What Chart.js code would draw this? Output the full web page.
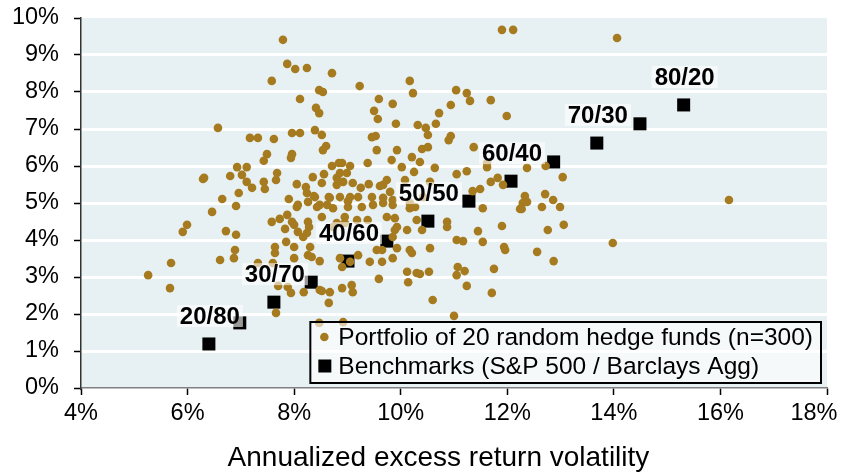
<!DOCTYPE html>
<html>
<head>
<meta charset="utf-8">
<script src="https://cdn.jsdelivr.net/npm/chart.js@4.4.1/dist/chart.umd.min.js"></script>
<style>
  html, body { margin: 0; padding: 0; background: #fff; }
  #wrap { width: 851px; height: 475px; }
</style>
</head>
<body>
<div id="wrap"><canvas id="chart" width="851" height="475"></canvas></div>
<script>
// axis ticks
const xTicks = [4, 6, 8, 10, 12, 14, 16, 18];
const yTicks = [0, 1, 2, 3, 4, 5, 6, 7, 8, 9, 10];

// portfolios of 20 random hedge funds (volatility %, excess return %)
const fundVol = [
  7.79, 7.87, 8.02, 8.24, 8.71, 7.58, 8.47, 8.54, 8.11, 8.41,
  8.47, 6.57, 7.17, 7.32, 7.62, 7.96, 8.11, 8.39, 8.52, 8.60,
  8.54, 7.49, 7.43, 7.96, 7.94, 6.93, 7.11, 6.31, 6.80, 7.02,
  7.11, 7.21, 6.96, 7.43, 7.45, 7.68, 7.66, 8.05, 6.65, 7.90,
  8.71, 8.84, 8.22, 8.24, 8.35, 8.37, 8.56, 8.52, 8.65, 8.80,
  8.80, 11.90, 12.11, 9.23, 10.17, 10.23, 9.59, 9.85, 11.04, 11.24,
  11.30, 11.69, 11.99, 10.94, 10.72, 9.50, 9.57, 9.91, 10.32, 10.47,
  10.51, 10.66, 9.46, 9.53, 10.94, 10.90, 9.55, 9.93, 9.83, 10.21,
  10.36, 10.40, 10.51, 11.37, 9.38, 10.02, 10.64, 10.25, 11.05, 11.24,
  11.62, 9.05, 8.90, 8.86, 8.92, 9.10, 9.40, 9.25, 9.61, 9.74,
  9.67, 10.08, 10.55, 11.69, 11.82, 11.92, 12.37, 11.62, 11.35, 11.49,
  12.33, 9.05, 9.20, 9.46, 9.67, 8.86, 8.99, 9.80, 9.01, 9.85,
  8.07, 8.26, 8.39, 8.48, 8.62, 8.67, 8.73, 14.06, 12.72, 13.04,
  12.71, 12.86, 16.16, 12.37, 12.27, 12.65, 12.99, 12.76, 13.06, 12.56,
  12.87, 13.98, 6.29, 6.91, 6.46, 5.99, 5.91, 6.72, 6.91, 6.89,
  6.87, 6.61, 5.69, 5.26, 5.67, 8.05, 7.58, 7.73, 7.87, 7.83,
  7.96, 8.00, 8.26, 8.28, 8.17, 8.24, 7.85, 7.64, 7.64, 8.00,
  8.00, 8.30, 8.26, 8.48, 7.32, 7.60, 7.70, 7.88, 7.94, 8.18,
  8.52, 8.67, 8.65, 7.66, 8.47, 8.07, 8.33, 8.43, 8.52, 8.95,
  9.01, 9.27, 9.48, 9.67, 9.85, 9.18, 9.38, 9.74, 9.89, 9.93,
  10.12, 10.30, 10.40, 9.89, 9.85, 9.55, 9.65, 9.20, 9.05, 8.86,
  8.90, 9.42, 9.65, 9.85, 10.17, 10.21, 10.55, 10.12, 10.30, 10.36,
  10.53, 10.14, 9.59, 9.08, 9.10, 8.90, 8.48, 10.60, 8.95, 8.73,
  8.80, 10.17, 10.17, 10.27, 10.87, 10.87, 10.42, 11.54, 11.45, 11.54,
  11.90, 12.24, 12.29, 11.94, 11.96, 11.05, 11.17, 9.93, 11.07, 11.05,
  11.20, 11.24, 11.75, 11.71, 11.00, 8.92
];
const fundRet = [
  9.41, 8.76, 8.62, 8.65, 8.51, 8.30, 8.05, 8.00, 7.81, 7.57,
  7.43, 7.03, 6.76, 6.76, 6.73, 6.89, 6.89, 6.97, 6.84, 6.54,
  6.43, 6.32, 6.14, 6.32, 6.22, 5.97, 5.97, 5.68, 5.73, 5.76,
  5.57, 5.41, 5.27, 5.57, 5.38, 5.81, 5.62, 5.51, 5.11, 5.11,
  6.00, 6.08, 5.43, 5.27, 5.70, 5.19, 5.78, 5.54, 5.16, 5.68,
  5.49, 9.68, 9.68, 8.16, 8.30, 7.97, 7.81, 7.68, 8.05, 7.97,
  7.76, 7.78, 7.35, 7.65, 7.43, 7.49, 7.27, 7.14, 7.11, 7.03,
  6.84, 7.14, 6.78, 6.81, 6.81, 6.70, 6.43, 6.43, 6.16, 6.24,
  6.11, 6.46, 6.51, 6.51, 6.08, 5.97, 5.95, 5.84, 5.78, 5.86,
  5.97, 6.00, 6.08, 5.81, 5.57, 5.54, 5.51, 5.41, 5.46, 5.62,
  5.49, 5.62, 5.57, 5.57, 5.68, 5.49, 5.95, 6.08, 5.32, 5.38,
  5.19, 5.16, 5.16, 5.16, 5.14, 5.16, 5.81, 5.30, 5.05, 5.08,
  4.95, 5.03, 5.16, 4.95, 4.95, 5.14, 4.86, 9.46, 6.00, 5.70,
  5.24, 5.08, 5.08, 5.03, 4.84, 4.89, 4.89, 4.27, 4.41, 3.68,
  3.43, 3.92, 5.65, 4.92, 4.76, 4.41, 4.22, 4.24, 4.14, 3.73,
  3.51, 3.46, 3.38, 3.05, 2.70, 4.89, 4.49, 4.57, 4.68, 4.30,
  4.49, 4.41, 4.49, 4.35, 4.08, 4.19, 3.95, 3.81, 3.65, 3.81,
  3.51, 3.81, 3.59, 3.43, 3.38, 3.38, 2.76, 2.73, 2.57, 2.59,
  2.62, 2.59, 2.30, 2.03, 1.76, 4.22, 3.54, 4.89, 4.62, 4.62,
  4.89, 4.89, 4.95, 5.00, 4.95, 4.54, 4.54, 4.62, 4.59, 4.35,
  4.27, 4.54, 4.27, 4.27, 4.08, 3.73, 3.73, 3.59, 3.41, 3.51,
  3.27, 3.41, 3.41, 3.51, 3.73, 3.65, 3.78, 3.14, 3.11, 3.08,
  3.14, 2.86, 2.95, 2.78, 2.59, 2.70, 2.65, 2.38, 4.46, 4.35,
  4.46, 5.00, 4.86, 4.89, 4.49, 4.35, 5.16, 4.86, 4.24, 3.95,
  4.38, 4.84, 5.00, 3.81, 3.73, 4.00, 3.97, 3.78, 3.27, 3.05,
  3.16, 2.76, 3.22, 2.57, 1.95, 1.78
];

// S&P 500 / Barclays Agg blends
const benchVol = [6.40, 6.98, 7.62, 8.32, 9.01, 9.74, 10.51, 11.28, 12.07, 12.87, 13.68, 14.49, 15.31];
const benchRet = [1.19, 1.76, 2.32, 2.86, 3.43, 3.97, 4.51, 5.05, 5.59, 6.11, 6.62, 7.14, 7.65];
const benchLabels = ['20/80', '', '30/70', '', '40/60', '', '50/50', '', '60/40', '', '70/30', '', '80/20'];

const legendLabels = ['Portfolio of 20 random hedge funds (n=300)', 'Benchmarks (S&P 500 / Barclays Agg)'];

const FONT = "'Liberation Sans', Arial, sans-serif";
const GOLD = '#A67B20';
const NBSP4 = '\u00a0\u00a0\u00a0\u00a0';

const toPoints = (xs, ys) => xs.map((x, i) => ({ x: x, y: ys[i] }));

// light blue plot background
const plotBg = {
  id: 'plotBg',
  beforeDraw(chart) {
    const a = chart.chartArea;
    const ctx = chart.ctx;
    ctx.save();
    ctx.fillStyle = '#e7f0f3';
    ctx.fillRect(a.left, a.top, a.right - a.left, a.bottom - a.top);
    ctx.restore();
  }
};

// "20/80" ... labels above every other benchmark square
const benchTags = {
  id: 'benchTags',
  afterDatasetsDraw(chart) {
    const ctx = chart.ctx;
    const meta = chart.getDatasetMeta(1);
    ctx.save();
    ctx.font = 'bold 24px ' + FONT;
    ctx.textAlign = 'center';
    ctx.textBaseline = 'middle';
    meta.data.forEach((pt, i) => {
      const txt = benchLabels[i];
      if (!txt) return;
      const w = ctx.measureText(txt).width;
      const cx = pt.x + 1, cy = pt.y - 28;
      ctx.fillStyle = 'rgba(255,255,255,0.6)';
      ctx.fillRect(cx - w / 2 - 3, cy - 11, w + 6, 22);
      ctx.fillStyle = '#000';
      ctx.fillText(txt, cx, cy + 1);
    });
    ctx.restore();
  }
};

// legend box inside the lower right of the plot
const insideLegend = {
  id: 'insideLegend',
  afterDraw(chart) {
    const ctx = chart.ctx;
    const a = chart.chartArea;
    ctx.save();
    ctx.font = '24.5px ' + FONT;
    const tw = Math.max(...legendLabels.map(t => ctx.measureText(t).width));
    const right = a.right - 6, bottom = a.bottom - 5;
    const h = 61, w = tw + 36;
    const left = right - w, top = bottom - h;
    ctx.fillStyle = 'rgba(255,255,255,0.6)';
    ctx.fillRect(left, top, w, h);
    ctx.strokeStyle = '#000';
    ctx.lineWidth = 2;
    ctx.strokeRect(left, top, w, h);
    const rows = [top + 15, top + 44];
    // markers
    ctx.fillStyle = GOLD;
    ctx.beginPath();
    ctx.arc(left + 14, rows[0], 4.3, 0, Math.PI * 2);
    ctx.fill();
    ctx.fillStyle = '#000';
    ctx.fillRect(left + 8, rows[1] - 6.5, 13, 13);
    ctx.textAlign = 'left';
    ctx.textBaseline = 'middle';
    legendLabels.forEach((t, i) => ctx.fillText(t, left + 28, rows[i] + 1));
    ctx.restore();
  }
};

new Chart(document.getElementById('chart'), {
  type: 'scatter',
  data: {
    datasets: [{
      label: legendLabels[0],
      data: toPoints(fundVol, fundRet),
      backgroundColor: GOLD,
      borderWidth: 0,
      pointRadius: 4.3,
      pointHoverRadius: 4.3
    }, {
      label: legendLabels[1],
      data: toPoints(benchVol, benchRet),
      backgroundColor: '#000',
      borderWidth: 0,
      pointStyle: 'rect',
      pointRadius: 9.2,
      pointHoverRadius: 9.2
    }]
  },
  options: {
    responsive: false,
    animation: false,
    devicePixelRatio: 1,
    layout: { padding: { top: 18, right: 24, left: 0, bottom: 0 } },
    plugins: {
      legend: { display: false },
      tooltip: { enabled: false }
    },
    scales: {
      x: {
        type: 'linear',
        min: 4,
        max: 18,
        afterFit: s => { s.height = 87; s.paddingLeft = 0; s.paddingRight = 0; },
        afterBuildTicks: s => { s.ticks = xTicks.map(v => ({ value: v })); },
        ticks: {
          padding: 4,
          color: '#000',
          font: { family: FONT, size: 23.5 },
          // last label sits a little inside the right edge, as in the original
          callback: v => v === 18 ? v + '%' + NBSP4 : v + '%'
        },
        grid: { drawOnChartArea: false, drawTicks: true, tickLength: 7, tickColor: '#000', tickWidth: 1.5 },
        border: { color: '#808080', width: 1.5 },
        title: {
          display: true,
          text: 'Annualized excess return volatility' + NBSP4,
          color: '#000',
          font: { family: FONT, size: 28 },
          padding: { top: 0, bottom: 0 }
        }
      },
      y: {
        type: 'linear',
        min: 0,
        max: 10,
        afterFit: s => { s.width = 81; s.paddingTop = 0; s.paddingBottom = 0; },
        afterBuildTicks: s => { s.ticks = yTicks.map(v => ({ value: v })); },
        ticks: {
          padding: 15,
          color: '#000',
          font: { family: FONT, size: 23.5 },
          callback: v => v + '%'
        },
        grid: {
          color: c => (c.tick && (c.tick.value === 0 || c.tick.value === 10)) ? 'rgba(0,0,0,0)' : '#ffffff',
          lineWidth: 3,
          drawTicks: true,
          tickLength: 7,
          tickColor: '#000',
          tickWidth: 1.5
        },
        border: { color: '#333', width: 1.5 }
      }
    }
  },
  plugins: [plotBg, benchTags, insideLegend]
});
</script>
</body>
</html>
